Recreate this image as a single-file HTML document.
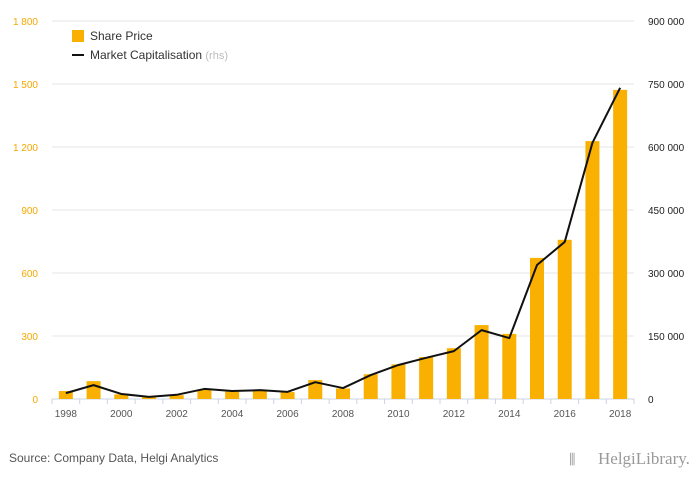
<!DOCTYPE html>
<html><head><meta charset="utf-8"><style>
body{margin:0;background:#fff;font-family:"Liberation Sans",sans-serif}
#wrap{position:relative;width:700px;height:483px;overflow:hidden}
</style></head><body>
<div id="wrap">
<svg id="chart" width="700" height="483"></svg>
</div>
<script>
const years=["1998","1999","2000","2001","2002","2003","2004","2005","2006","2007","2008","2009","2010","2011","2012","2013","2014","2015","2016","2017","2018"];
const sharePrice=[38,85,22,8,18,45,35,38,33,90,50,118,165,200,242,352,310,672,758,1228,1472];
const marketCap=[14000,33000,12000,5000,10000,24000,19000,21000,17000,40000,26000,57000,81000,98000,114000,164000,145000,319000,374000,610000,741000];
const leftTicks=[0,300,600,900,1200,1500,1800];
const leftLabels=["0","300","600","900","1 200","1 500","1 800"];
const rightTicks=[0,150000,300000,450000,600000,750000,900000];
const rightLabels=["0","150 000","300 000","450 000","600 000","750 000","900 000"];
const xLabelYears=["1998","2000","2002","2004","2006","2008","2010","2012","2014","2016","2018"];

const svg=document.getElementById('chart');
const NS="http://www.w3.org/2000/svg";
const x0=52,x1=634,yTop=21,yBot=399;
const band=(x1-x0)/years.length;
const xC=i=>x0+band*(i+0.5);
const yL=v=>yBot-(v/1800)*(yBot-yTop);
const yR=v=>yBot-(v/900000)*(yBot-yTop);
function mk(tag,attrs,parent){const e=document.createElementNS(NS,tag);for(const k in attrs)e.setAttribute(k,attrs[k]);(parent||svg).appendChild(e);return e;}

leftTicks.forEach((t,i)=>{
  const g=mk('line',{x1:x0,x2:x1,y1:yL(t),y2:yL(t),stroke:i===0?'#c8d3e6':'#e6e6e6','stroke-width':1});
  
  
  const lt=mk('text',{x:38,y:yL(t)+4,'text-anchor':'end','font-size':10,fill:'#f6a800'});
  lt.textContent=leftLabels[i];
  
  
  const rt=mk('text',{x:648,y:yR(rightTicks[i])+4,'font-size':10,fill:'#222'});
  rt.textContent=rightLabels[i];
  
  
});
for(let i=0;i<=years.length;i++){
  const tk=mk('line',{x1:x0+band*i,x2:x0+band*i,y1:yBot,y2:yBot+5,stroke:'#c8d3e6'});
  
  
}
years.forEach((y,i)=>{
  const b=mk('rect',{x:xC(i)-7,y:yL(sharePrice[i]),width:14,height:yBot-yL(sharePrice[i]),fill:'#f9b000'});
  
  
  if(xLabelYears.includes(y)){
    const t=mk('text',{x:xC(i),y:417,'text-anchor':'middle','font-size':10,fill:'#555'});
    t.textContent=y;
    
    
  }
});
const line=mk('polyline',{points:marketCap.map((v,i)=>xC(i)+','+yR(v)).join(' '),fill:'none',stroke:'#111','stroke-width':2,'stroke-linejoin':'round'});



const lg=mk('g',{});


const sw=mk('rect',{x:72,y:30,width:12,height:12,fill:'#f9b000'},lg);


const t1=mk('text',{x:90,y:40,'font-size':12,fill:'#333'},lg);
t1.textContent='Share Price';


const ls=mk('line',{x1:72,x2:84,y1:55,y2:55,stroke:'#111','stroke-width':2},lg);


const t2=mk('text',{x:90,y:59,'font-size':12,fill:'#333'},lg);
t2.innerHTML='Market Capitalisation <tspan fill="#bbb" font-size="11">(rhs)</tspan>';



const src=mk('text',{x:9,y:462,'font-size':12,fill:'#555'});
src.textContent='Source: Company Data, Helgi Analytics';


const logo=mk('text',{x:598,y:464,'font-size':17,fill:'#999','font-family':'Liberation Serif, serif'});
logo.textContent='HelgiLibrary.';


const ic=mk('text',{x:569,y:464,'font-size':14,fill:'#999'});
ic.textContent='⫼';


</script>
</body></html>
